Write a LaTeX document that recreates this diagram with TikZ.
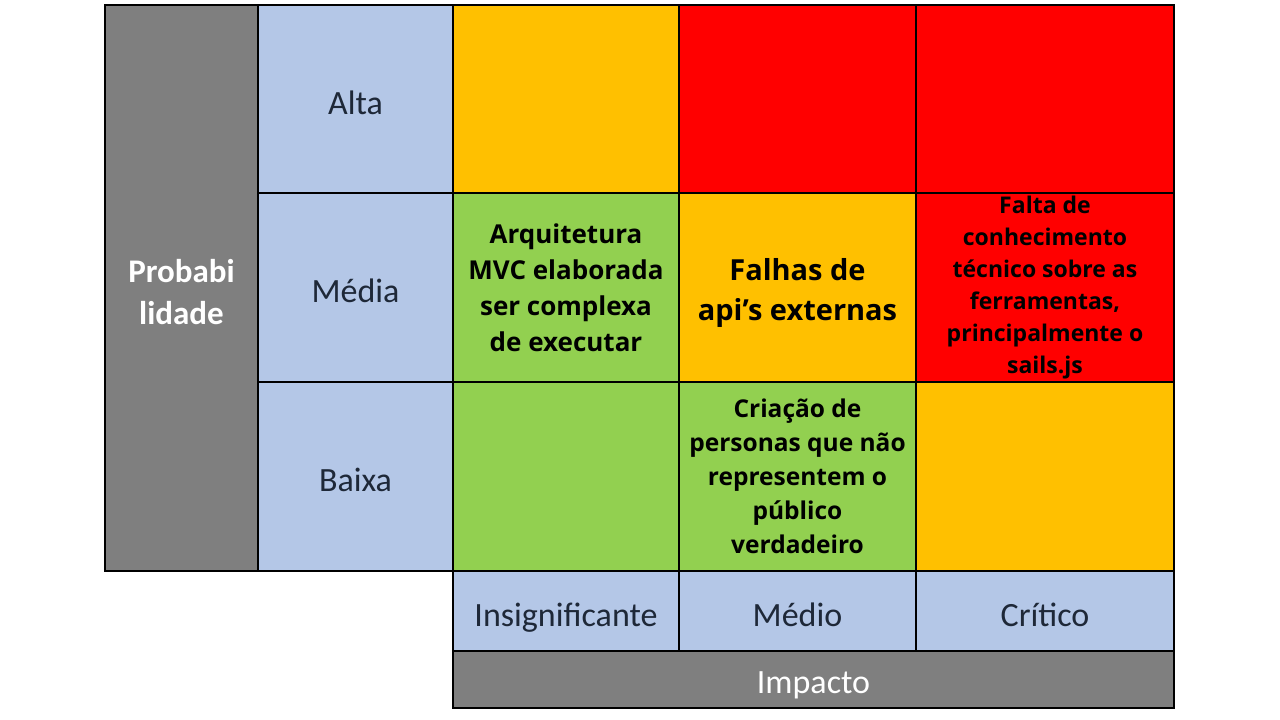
\documentclass[tikz,border=0pt]{standalone}
\usepackage{fontspec}
\setmainfont{Carlito}
\newfontfamily\riskfont{Open Sans}

\definecolor{cinza}{HTML}{7F7F7F}
\definecolor{azul}{HTML}{B4C7E7}
\definecolor{laranja}{HTML}{FFC000}
\definecolor{vermelho}{HTML}{FF0000}
\definecolor{verde}{HTML}{92D050}
\definecolor{escuro}{HTML}{1E2838}

\tikzset{
  cell/.style={draw=black, line width=1.6pt, inner sep=0pt, align=center},
  eixo/.style={cell, fill=cinza, text=white, font=\fontsize{34}{42}\selectfont, text height=28pt, text depth=0pt},
  nivel/.style={cell, fill=azul, text=escuro, font=\fontsize{34}{42}\selectfont, text height=30pt, text depth=0pt},
  risco/.style 2 args={cell, font=\riskfont\bfseries\fontsize{#1}{#2}\selectfont}
}

\begin{document}
\begin{tikzpicture}[x=1pt, y=-1pt]
        \useasboundingbox (0,0) rectangle (1280,720);
        % eixo da probabilidade
        \node[eixo, font=\bfseries\fontsize{33}{42}\selectfont, text height=73pt, minimum width=153, minimum height=566] (P) at (181.5, 288) {Probabi\\lidade};
        % niveis de probabilidade
        \node[nivel, minimum width=195, minimum height=188] (Alta) at (355.5, 99) {Alta};
        \node[nivel, minimum width=195, minimum height=189] (Media) at (355.5, 287.5) {Média};
        \node[nivel, minimum width=195, minimum height=189] (Baixa) at (355.5, 476.5) {Baixa};
        % linha alta
        \node[cell, fill=laranja, minimum width=226, minimum height=188] (A1) at (566, 99) {};
        \node[cell, fill=vermelho, minimum width=237, minimum height=188] (A2) at (797.5, 99) {};
        \node[cell, fill=vermelho, minimum width=258, minimum height=188] (A3) at (1045, 99) {};
        % linha media
        \node[risco={26}{36}, fill=verde, minimum width=226, minimum height=189] (M1) at (566, 287.5) {Arquitetura\\MVC elaborada\\ser complexa\\de executar};
        \node[risco={29}{40}, fill=laranja, text height=73pt, text depth=7pt, minimum width=237, minimum height=189] (M2) at (797.5, 287.5) {Falhas de\\api’s externas};
        \node[risco={23}{32}, fill=vermelho, minimum width=258, minimum height=189] (M3) at (1045, 287.5) {Falta de\\conhecimento\\técnico sobre as\\ferramentas,\\principalmente o\\sails.js};
        % linha baixa
        \node[cell, fill=verde, minimum width=226, minimum height=189] (B1) at (566, 476.5) {};
        \node[risco={24.5}{34}, fill=verde, minimum width=237, minimum height=189] (B2) at (797.5, 476.5) {Criação de\\personas que não\\representem o\\público\\verdadeiro};
        \node[cell, fill=laranja, minimum width=258, minimum height=189] (B3) at (1045, 476.5) {};
        % niveis de impacto
        \node[nivel, minimum width=226, minimum height=80] (I1) at (566, 611) {Insignificante};
        \node[nivel, minimum width=237, minimum height=80] (I2) at (797.5, 611) {Médio};
        \node[nivel, minimum width=258, minimum height=80] (I3) at (1045, 611) {Crítico};
        % eixo do impacto
        \node[eixo, minimum width=721, minimum height=57] (I) at (813.5, 679.5) {Impacto};
    \end{tikzpicture}
\end{document}
